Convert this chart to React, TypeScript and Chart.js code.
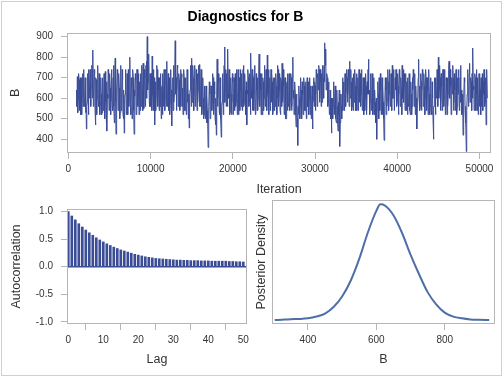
import React, { useEffect, useRef } from "react";
import { Chart, registerables } from "chart.js";

Chart.register(...registerables);

const FONT = "'Liberation Sans', Arial, sans-serif";

// ---- Trace plot data (B sampled every traceThin iterations, starting at traceStart)
const traceStart = 1000;
const traceThin = 50;
const traceValues = [
  640, 560, 705, 530, 590, 720, 690, 540, 620, 700, 520, 660, 700, 520, 610, 720, 560, 740, 680, 560,
  600, 700, 530, 620, 450, 560, 580, 720, 650, 520, 740, 600, 600, 740, 700, 560, 660, 760, 745, 600,
  835, 560, 640, 740, 720, 540, 470, 700, 690, 520, 600, 740, 760, 580, 560, 720, 650, 520, 580, 700,
  620, 520, 530, 700, 690, 540, 560, 720, 640, 500, 730, 580, 520, 680, 440, 620, 600, 740, 700, 540,
  560, 720, 650, 520, 590, 740, 700, 560, 540, 700, 760, 560, 480, 660, 795, 580, 425, 620, 640, 740,
  720, 540, 580, 720, 650, 500, 530, 680, 760, 540, 600, 740, 690, 520, 500, 640, 430, 600, 620, 740,
  700, 520, 560, 720, 640, 520, 740, 560, 590, 740, 800, 560, 520, 700, 660, 500, 580, 740, 700, 540,
  425, 640, 610, 720, 690, 520, 560, 740, 740, 560, 600, 720, 520, 680, 660, 540, 720, 560, 580, 760,
  640, 540, 770, 600, 550, 740, 700, 560, 620, 760, 780, 600, 900, 640, 680, 800, 815, 580, 560, 720,
  650, 560, 720, 540, 805, 620, 600, 740, 540, 700, 470, 640, 680, 540, 620, 760, 740, 560, 560, 700,
  640, 540, 700, 560, 590, 720, 500, 640, 660, 520, 720, 560, 560, 740, 650, 540, 610, 740, 700, 560,
  780, 560, 620, 720, 540, 700, 690, 520, 580, 740, 640, 520, 465, 640, 700, 540, 760, 580, 620, 740,
  880, 620, 700, 540, 640, 760, 750, 560, 580, 720, 690, 540, 620, 740, 560, 700, 720, 560, 650, 520,
  600, 740, 700, 540, 540, 700, 660, 520, 620, 740, 580, 680, 500, 620, 455, 600, 640, 760, 720, 560,
  795, 580, 660, 760, 700, 540, 620, 760, 740, 560, 580, 740, 680, 540, 720, 580, 640, 760, 700, 560,
  765, 560, 620, 740, 680, 520, 560, 700, 600, 500, 520, 660, 640, 500, 580, 660, 480, 620, 540, 480,
  360, 520, 560, 680, 620, 500, 500, 660, 660, 540, 580, 720, 700, 520, 540, 680, 620, 500, 470, 600,
  420, 640, 790, 560, 600, 720, 680, 540, 520, 700, 640, 500, 410, 560, 580, 720, 700, 520, 620, 760,
  850, 580, 640, 740, 560, 720, 700, 560, 840, 620, 600, 740, 660, 520, 540, 700, 620, 520, 580, 720,
  680, 520, 520, 700, 640, 540, 720, 560, 580, 740, 660, 520, 600, 740, 520, 680, 700, 540, 640, 740,
  560, 720, 680, 540, 620, 740, 760, 560, 580, 720, 640, 520, 520, 680, 470, 640, 620, 740, 700, 560,
  580, 720, 660, 520, 820, 640, 600, 740, 540, 720, 700, 540, 620, 760, 680, 520, 560, 720, 640, 540,
  700, 540, 600, 720, 815, 600, 560, 720, 640, 520, 720, 560, 520, 700, 680, 540, 600, 760, 740, 560,
  580, 740, 660, 540, 810, 620, 600, 740, 520, 680, 700, 540, 640, 740, 580, 720, 680, 520, 540, 700,
  620, 540, 700, 560, 560, 720, 660, 520, 600, 760, 740, 560, 580, 720, 640, 540, 520, 700, 680, 560,
  770, 580, 600, 740, 660, 520, 540, 700, 620, 500, 500, 660, 680, 540, 720, 560, 580, 720, 640, 540,
  600, 720, 700, 540, 560, 700, 800, 600, 640, 520, 540, 680, 620, 520, 460, 620, 580, 500, 370, 560,
  520, 660, 600, 500, 560, 700, 640, 520, 500, 680, 620, 520, 580, 700, 660, 540, 540, 680, 600, 500,
  620, 700, 560, 680, 660, 520, 600, 700, 520, 660, 640, 500, 580, 660, 450, 580, 600, 700, 560, 680,
  660, 540, 620, 740, 700, 560, 580, 720, 640, 760, 740, 580, 600, 740, 680, 560, 720, 580, 640, 760,
  700, 600, 760, 680, 870, 760, 840, 640, 640, 720, 700, 560, 580, 680, 620, 520, 540, 640, 500, 600,
  430, 580, 600, 500, 560, 680, 640, 520, 520, 660, 600, 500, 480, 640, 560, 480, 440, 580, 520, 640,
  365, 480, 500, 620, 560, 500, 620, 700, 540, 660, 680, 540, 600, 720, 720, 560, 640, 740, 700, 580,
  620, 740, 700, 560, 780, 620, 600, 740, 680, 540, 560, 700, 640, 540, 720, 580, 580, 740, 660, 540,
  600, 720, 540, 660, 700, 540, 640, 740, 580, 700, 720, 560, 620, 740, 680, 540, 560, 700, 640, 520,
  700, 540, 600, 720, 660, 520, 540, 680, 620, 740, 790, 620, 640, 520, 580, 720, 700, 540, 560, 720,
  640, 520, 600, 700, 520, 640, 580, 500, 480, 600, 400, 540, 560, 680, 620, 500, 700, 560, 540, 720,
  640, 520, 600, 700, 520, 660, 580, 500, 395, 540, 560, 700, 640, 520, 700, 560, 600, 740, 680, 540,
  620, 740, 720, 560, 580, 720, 660, 540, 760, 600, 600, 740, 680, 540, 540, 700, 640, 740, 700, 560,
  580, 720, 660, 520, 620, 740, 700, 560, 560, 700, 640, 520, 760, 600, 620, 740, 580, 720, 680, 540,
  600, 720, 540, 680, 640, 520, 700, 560, 580, 720, 660, 540, 520, 680, 620, 520, 560, 700, 640, 740,
  700, 560, 580, 720, 520, 660, 600, 520, 450, 600, 620, 700, 790, 600, 660, 540, 560, 720, 680, 540,
  640, 740, 720, 560, 580, 720, 660, 520, 600, 740, 700, 540, 540, 700, 640, 520, 580, 740, 620, 520,
  560, 700, 660, 540, 520, 680, 600, 500, 400, 560, 560, 700, 640, 520, 700, 600, 620, 740, 680, 560,
  800, 600, 640, 760, 700, 540, 580, 720, 660, 540, 620, 740, 740, 560, 600, 740, 680, 520, 560, 700,
  640, 520, 700, 560, 620, 740, 780, 600, 600, 740, 660, 520, 540, 700, 620, 760, 700, 540, 580, 720,
  640, 540, 600, 740, 680, 520, 560, 700, 620, 740, 700, 540, 580, 700, 760, 580, 640, 520, 540, 620,
  420, 560, 600, 700, 680, 540, 560, 480, 340, 540, 620, 740, 700, 560, 640, 720, 770, 580, 600, 700,
  680, 540, 720, 600, 845, 640, 660, 540, 580, 720, 700, 540, 620, 740, 540, 700, 660, 520, 600, 720,
  560, 700, 640, 520, 700, 560, 600, 720, 540, 680, 620, 740, 720, 560, 580, 700, 470, 620, 740, 600,
];
const traceXTicks = [0, 10000, 20000, 30000, 40000, 50000];
const traceYTicks = [400, 500, 600, 700, 800, 900];

// ---- Autocorrelation by lag (lag = index)
const acfValues = [
  1.0, 0.92, 0.85, 0.78, 0.72, 0.665, 0.615, 0.57, 0.525, 0.485,
  0.45, 0.415, 0.385, 0.355, 0.33, 0.305, 0.285, 0.265, 0.245, 0.225,
  0.21, 0.195, 0.18, 0.17, 0.16, 0.15, 0.145, 0.14, 0.135, 0.13,
  0.125, 0.12, 0.12, 0.115, 0.115, 0.11, 0.11, 0.11, 0.105, 0.105,
  0.105, 0.1, 0.1, 0.1, 0.1, 0.1, 0.095, 0.095, 0.09, 0.09,
  0.085,
];
const acfXTicks = [0, 10, 20, 30, 40, 50];
const acfYTicks = [-1, -0.5, 0, 0.5, 1];

// ---- Posterior density of B
const densityB = [
  303, 325, 350, 375, 400, 425, 450, 475, 500, 525,
  550, 575, 600, 612, 625, 650, 675, 700, 725, 750,
  775, 800, 825, 850, 875, 900, 930,
];
const densityValues = [
  0.0, 0.00002, 0.00004, 0.00005, 0.00008, 0.00016, 0.0003, 0.0006, 0.00108, 0.0018,
  0.0028, 0.004, 0.005, 0.0053, 0.00525, 0.0048, 0.004, 0.003, 0.0021, 0.00128,
  0.00072, 0.00034, 0.00016, 0.00008, 0.00003, 0.00001, 0.0,
];
const densityXTicks = [400, 600, 800];

const TRACE_COLOR = "#3B4D97";
const DENSITY_COLOR = "#4D6FA8";
const FRAME_COLOR = "#B5B5B5";
const TEXT_COLOR = "#333333";

const framePlugin = {
  id: "frame",
  afterDatasetsDraw(chart: any) {
    const { ctx, chartArea } = chart;
    ctx.save();
    ctx.strokeStyle = FRAME_COLOR;
    ctx.lineWidth = 1;
    ctx.strokeRect(
      Math.round(chartArea.left) + 0.5,
      Math.round(chartArea.top) + 0.5,
      Math.round(chartArea.right - chartArea.left) - 1,
      Math.round(chartArea.bottom - chartArea.top) - 1
    );
    ctx.restore();
  },
};

const setTicks = (vals: number[]) => (scale: any) => {
  scale.ticks = vals.map((v) => ({ value: v }));
};
const fixW = (w: number) => (scale: any) => {
  scale.width = w;
};
const fixH = (h: number) => (scale: any) => {
  scale.height = h;
};

const tickFont = { family: FONT, size: 10 };
const titleFont = { family: FONT, size: 12.5 };

function xAxis(min: number, max: number, ticks: number[], title: string, height: number, titlePadBottom: number, fmt?: (v: number) => string) {
  return {
    type: "linear",
    position: "bottom",
    min,
    max,
    afterBuildTicks: setTicks(ticks),
    afterFit: fixH(height),
    grid: { display: true, drawOnChartArea: false, drawTicks: true, tickLength: 6, color: FRAME_COLOR },
    border: { display: false },
    ticks: {
      font: tickFont,
      color: TEXT_COLOR,
      padding: 4,
      maxRotation: 0,
      autoSkip: false,
      callback: (v: any) => (fmt ? fmt(Number(v)) : String(v)),
    },
    title: {
      display: true,
      text: title,
      font: titleFont,
      color: TEXT_COLOR,
      padding: { top: 0, bottom: titlePadBottom },
    },
  };
}

function yAxis(min: number, max: number, ticks: number[] | null, title: string, width: number, titlePad: number, fmt?: (v: number) => string) {
  return {
    type: "linear",
    position: "left",
    min,
    max,
    afterBuildTicks: ticks ? setTicks(ticks) : undefined,
    afterFit: fixW(width),
    grid: ticks
      ? { display: true, drawOnChartArea: false, drawTicks: true, tickLength: 6, color: FRAME_COLOR }
      : { display: false },
    border: { display: false },
    ticks: ticks
      ? {
          font: tickFont,
          color: TEXT_COLOR,
          padding: 8,
          autoSkip: false,
          callback: (v: any) => (fmt ? fmt(Number(v)) : String(v)),
        }
      : { display: false },
    title: {
      display: true,
      text: title,
      font: titleFont,
      color: TEXT_COLOR,
      padding: { top: titlePad, bottom: 0 },
    },
  };
}

function useChart(ref: React.RefObject<HTMLCanvasElement>, makeConfig: () => any) {
  useEffect(() => {
    if (!ref.current) return;
    const chart = new Chart(ref.current, makeConfig());
    return () => chart.destroy();
  }, []);
}

export default function App() {
  const traceRef = useRef<HTMLCanvasElement>(null);
  const acfRef = useRef<HTMLCanvasElement>(null);
  const densRef = useRef<HTMLCanvasElement>(null);

  useEffect(() => {
    document.body.style.margin = "0";
  }, []);

  useChart(traceRef, () => ({
    type: "line",
    data: {
      datasets: [
        {
          data: traceValues.map((v, i) => ({ x: traceStart + i * traceThin, y: v })),
          borderColor: TRACE_COLOR,
          borderWidth: 1,
          pointRadius: 0,
          tension: 0,
          fill: false,
        },
      ],
    },
    options: {
      responsive: false,
      animation: false,
      layout: { padding: { left: 0, right: 12, top: 0, bottom: 0 } },
      plugins: {
        legend: { display: false },
        tooltip: { enabled: false },
        title: {
          display: true,
          text: "Diagnostics for B",
          color: "#000000",
          font: { family: FONT, size: 14, weight: "bold" },
          padding: { top: 9, bottom: 7 },
        },
      },
      scales: {
        x: xAxis(-160, 51400, traceXTicks, "Iteration", 47, 2.5),
        y: yAxis(333, 919, traceYTicks, "B", 67, 8.5),
      },
    },
    plugins: [framePlugin],
  }));

  useChart(acfRef, () => ({
    type: "bar",
    data: {
      datasets: [
        {
          type: "bar",
          data: acfValues.map((v, i) => ({ x: i, y: v })),
          backgroundColor: TRACE_COLOR,
          borderWidth: 0,
          barThickness: 2,
          order: 1,
        },
        {
          type: "line",
          data: [
            { x: -0.37, y: 0 },
            { x: 51.06, y: 0 },
          ],
          borderColor: TRACE_COLOR,
          borderWidth: 1.5,
          pointRadius: 0,
          order: 2,
        },
      ],
    },
    options: {
      responsive: false,
      animation: false,
      layout: { padding: { left: 0, right: 11, top: 9, bottom: 0 } },
      plugins: { legend: { display: false }, tooltip: { enabled: false }, title: { display: false } },
      scales: {
        x: { ...xAxis(-0.37, 51.06, acfXTicks, "Lag", 53, 9.5), offset: false },
        y: yAxis(-1.04, 1.047, acfYTicks, "Autocorrelation", 67, 9.5, (v) => v.toFixed(1)),
      },
    },
    plugins: [framePlugin],
  }));

  useChart(densRef, () => ({
    type: "line",
    data: {
      datasets: [
        {
          data: densityB.map((b, i) => ({ x: b, y: densityValues[i] })),
          borderColor: DENSITY_COLOR,
          borderWidth: 2,
          pointRadius: 0,
          cubicInterpolationMode: "monotone",
          fill: false,
        },
      ],
    },
    options: {
      responsive: false,
      animation: false,
      layout: { padding: { left: 0, right: 8, top: 5, bottom: 0 } },
      plugins: { legend: { display: false }, tooltip: { enabled: false }, title: { display: false } },
      scales: {
        x: xAxis(295, 947, densityXTicks, "B", 53, 9.5),
        y: yAxis(-0.00018, 0.0055, null, "Posterior Density", 19, 1),
      },
    },
    plugins: [framePlugin],
  }));

  return (
    <div style={{ position: "relative", width: 503, height: 377, background: "#ffffff", overflow: "hidden" }}>
      <div
        style={{
          position: "absolute",
          left: 1,
          top: 1,
          width: 501,
          height: 375,
          border: "1px solid #D0D0D0",
          boxSizing: "border-box",
        }}
      />
      <canvas ref={traceRef} width={503} height={200} style={{ position: "absolute", left: 0, top: 0 }} />
      <canvas ref={acfRef} width={258} height={182} style={{ position: "absolute", left: 0, top: 195 }} />
      <canvas ref={densRef} width={250} height={182} style={{ position: "absolute", left: 253, top: 195 }} />
    </div>
  );
}
